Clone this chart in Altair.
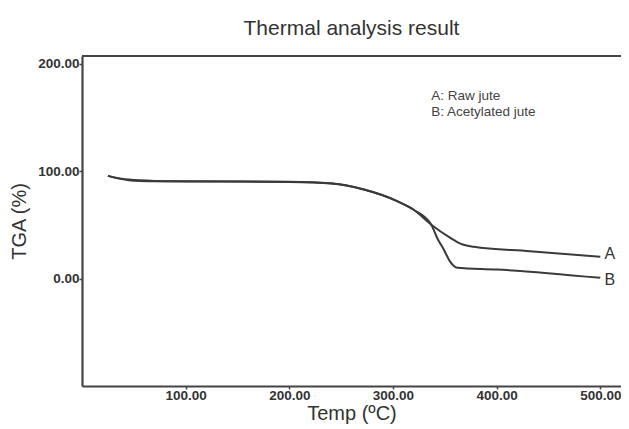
import altair as alt
import pandas as pd

# Curve A: Raw jute
temp_a = [25, 45, 70, 100, 150, 200, 240, 272, 304, 320, 337, 355, 365, 378, 432, 500]
tga_a = [95.5, 92.0, 90.8, 90.5, 90.3, 90.0, 88.6, 82.8, 72.0, 64.0, 50.0, 38.0, 32.5, 29.5, 25.4, 20.2]
# Curve B: Acetylated jute
temp_b = [25, 45, 70, 100, 150, 200, 240, 272, 304, 320, 337, 343, 349, 355, 362, 400, 500]
tga_b = [95.5, 91.5, 90.5, 90.3, 90.2, 89.8, 88.4, 82.8, 72.0, 64.0, 50.0, 37.0, 27.0, 16.0, 10.0, 8.4, 0.6]

x_ticks = [100, 200, 300, 400, 500]
y_ticks = [0, 100, 200]

legend_lines = ["A: Raw jute", "B: Acetylated jute"]
legend_x = [337, 337]
legend_y = [166, 151]

end_labels = ["A", "B"]
end_x = [504, 504]
end_y = [22.7, -1.4]

FONT = "Liberation Sans"
INK = "#3a3a3a"

rows = [{"temp": t, "tga": g, "series": "A"} for t, g in zip(temp_a, tga_a)]
rows += [{"temp": t, "tga": g, "series": "B"} for t, g in zip(temp_b, tga_b)]
df = pd.DataFrame(rows)

xscale = alt.Scale(domain=[0, 520], nice=False, zero=False)
yscale = alt.Scale(domain=[-100, 207], nice=False, zero=False)

xaxis = alt.Axis(
    values=x_ticks, format=".2f", title="Temp (ºC)", grid=False,
    domainColor="#444", domainWidth=2.2, tickColor="#444", tickWidth=1.5, tickSize=3,
    labelFont=FONT, labelFontSize=13.5, labelFontWeight="bold", labelColor="#333",
    labelPadding=-1, titleFont=FONT, titleFontSize=20, titleFontWeight="normal",
    titleColor="#333", titlePadding=2,
)
yaxis = alt.Axis(
    values=y_ticks, format=".2f", title="TGA (%)", grid=False,
    domainColor="#444", domainWidth=2.2, tickColor="#444", tickWidth=1.5, tickSize=3,
    labelFont=FONT, labelFontSize=13.5, labelFontWeight="bold", labelColor="#333",
    labelPadding=0, titleFont=FONT, titleFontSize=20, titleFontWeight="normal",
    titleColor="#333", titlePadding=8,
)

lines = alt.Chart(df).mark_line(color=INK, strokeWidth=2, interpolate="monotone").encode(
    x=alt.X("temp:Q", scale=xscale, axis=xaxis),
    y=alt.Y("tga:Q", scale=yscale, axis=yaxis),
    detail="series:N",
)

top_border = alt.Chart(pd.DataFrame({"k": [0]})).mark_rule(color="#444", strokeWidth=2.2).encode(
    x=alt.value(0), x2=alt.value(539), y=alt.value(0)
)

leg_df = pd.DataFrame({"label": legend_lines, "x": legend_x, "y": legend_y})
legend = alt.Chart(leg_df).mark_text(
    align="left", baseline="alphabetic", font=FONT, fontSize=13.5, color="#444"
).encode(x=alt.X("x:Q", scale=xscale), y=alt.Y("y:Q", scale=yscale), text="label:N")

end_df = pd.DataFrame({"label": end_labels, "x": end_x, "y": end_y})
ends = alt.Chart(end_df).mark_text(
    align="left", baseline="middle", font=FONT, fontSize=16, color="#333"
).encode(x=alt.X("x:Q", scale=xscale), y=alt.Y("y:Q", scale=yscale), text="label:N")

chart = alt.layer(lines, top_border, legend, ends).properties(
    width=539, height=330,
    title=alt.TitleParams("Thermal analysis result", font=FONT, fontSize=21,
                          fontWeight="normal", color="#333", offset=16, anchor="middle"),
    autosize=alt.AutoSizeParams(type="none"),
    padding={"left": 74, "top": 48, "right": 0, "bottom": 40},
).configure_view(strokeWidth=0).configure(background="white")

chart.save("out.html", embed_options={"renderer": "svg", "actions": False})
